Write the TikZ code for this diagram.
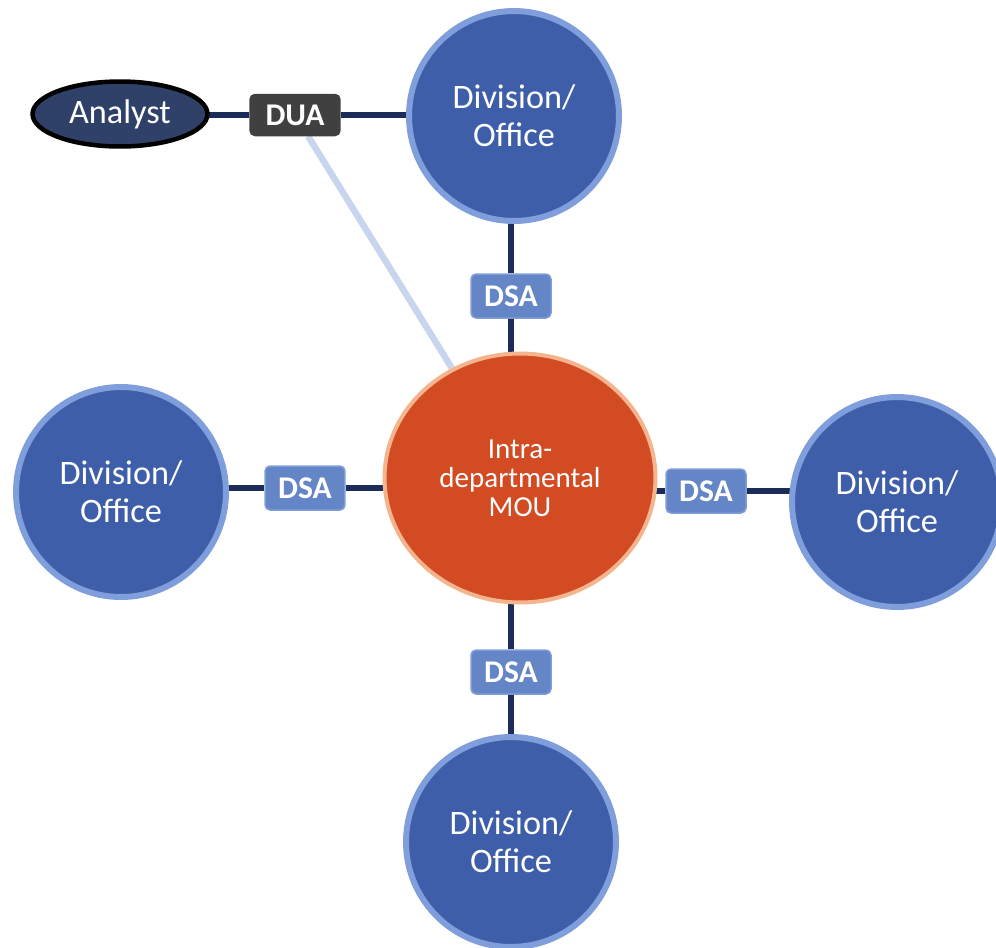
\documentclass[tikz,border=0pt]{standalone}
\usepackage{fontspec}
\setmainfont{Carlito}
\usetikzlibrary{shapes.geometric}
\pgfdeclarelayer{background}
\pgfsetlayers{background,main}

\definecolor{divfill}{HTML}{3F5EA9}
\definecolor{divedge}{HTML}{7F9EDB}
\definecolor{moufill}{HTML}{D24B22}
\definecolor{mouedge}{HTML}{F4B48E}
\definecolor{dsafill}{HTML}{6586C6}
\definecolor{dsaedge}{HTML}{7F9DD8}
\definecolor{duafill}{HTML}{404040}
\definecolor{anfill}{HTML}{2F4168}
\definecolor{navy}{HTML}{1C2C58}
\definecolor{paleline}{HTML}{C8D5EE}

\tikzset{
  division/.style={circle, fill=divfill, draw=divedge, line width=0.12cm,
    minimum size=4.2cm, inner sep=0pt, text=white, align=center,
    font=\fontsize{19.5}{21.5}\selectfont},
  mou/.style={ellipse, fill=moufill, draw=mouedge, line width=0.08cm,
    minimum width=5.42cm, minimum height=4.98cm, inner sep=0pt, text=white,
    align=center, font=\fontsize{16.5}{16.5}\selectfont},
  agreement/.style={rectangle, rounded corners=0.1cm, fill=dsafill, draw=dsaedge,
    line width=0.03cm, minimum width=1.6cm, minimum height=0.88cm, inner sep=0pt,
    text=white, font=\fontsize{18}{18}\selectfont\bfseries},
  usebox/.style={agreement, fill=duafill, draw=duafill, minimum width=1.8cm,
    minimum height=0.82cm},
  analyst/.style={ellipse, fill=anfill, draw=black, line width=0.09cm,
    minimum width=3.5cm, minimum height=1.3cm, inner sep=0pt, text=white,
    font=\fontsize{19.5}{21}\selectfont},
  link/.style={navy, line width=0.12cm},
  palelink/.style={paleline, line width=0.13cm},
}

\begin{document}
\begin{tikzpicture}[x=0.02cm, y=-0.02cm]
  \useasboundingbox (0,0) rectangle (996,947);

  % hub and the four divisions
  \node[mou] (mou) at (520,478) {Intra-\\departmental\\MOU};
  \node[division] (top) at (514,116) {Division/\\Office};
  \node[division] (left) at (121,492) {Division/\\Office};
  \node[division] (right) at (897,502) {Division/\\Office};
  \node[division] (bottom) at (511,842) {Division/\\Office};

  % agreement labels
  \node[agreement] (dsaT) at (511,296) {DSA};
  \node[agreement] (dsaL) at (305,488) {DSA};
  \node[agreement] (dsaR) at (706,491) {DSA};
  \node[agreement] (dsaB) at (511,672) {DSA};

  % analyst and data use agreement
  \node[analyst] (analyst) at (120,114) {Analyst};
  \node[usebox] (dua) at (295,115) {DUA};

  \begin{pgfonlayer}{background}
    \draw[palelink] (dua) -- (mou);
    \draw[link] (dua -| analyst) -- (dua) -- (dua -| top);
    \draw[link] (dsaT |- top) -- (dsaT) -- (dsaT |- mou);
    \draw[link] (dsaB |- mou) -- (dsaB) -- (dsaB |- bottom);
    \draw[link] (dsaL -| left) -- (dsaL) -- (dsaL -| mou);
    \draw[link] (dsaR -| mou) -- (dsaR) -- (dsaR -| right);
  \end{pgfonlayer}
\end{tikzpicture}
\end{document}
